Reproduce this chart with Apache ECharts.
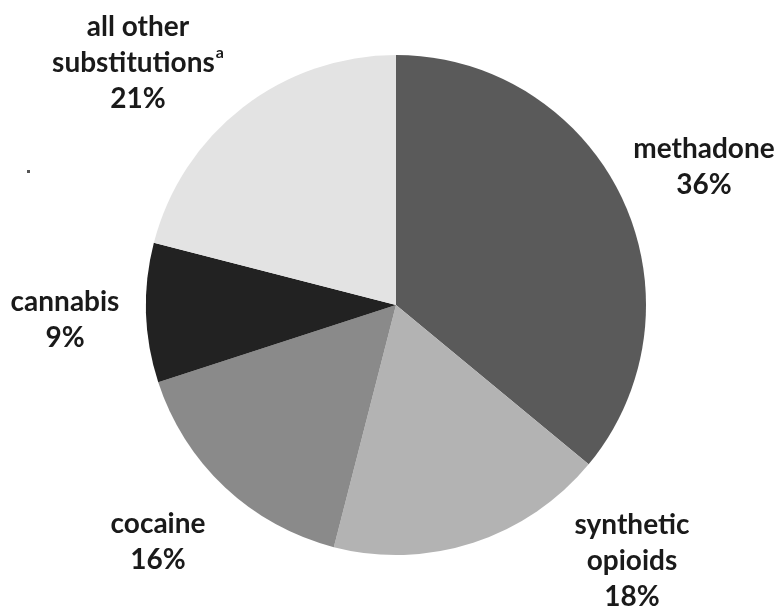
<!DOCTYPE html>
<html>
<head>
<meta charset="utf-8">
<script src="https://cdn.jsdelivr.net/npm/echarts@6/dist/echarts.min.js"></script>
<style>
  html, body { margin: 0; padding: 0; background: #ffffff; }
  #chart { width: 778px; height: 609px; }
</style>
</head>
<body>
<div id="chart"></div>
<script>
// Share of substitutions by substance (percent), clockwise from 12 o'clock
const categories = ['methadone', 'synthetic opioids', 'cocaine', 'cannabis', 'all other substitutions'];
const shares = [36, 18, 16, 9, 21];
const sliceColors = ['#5a5a5a', '#b3b3b3', '#8a8a8a', '#222222', '#e3e3e3'];

// Label text per slice (line breaks as printed); {sup|a} marks the footnote
const labelLines = [
  ['methadone'],
  ['synthetic', 'opioids'],
  ['cocaine'],
  ['cannabis'],
  ['all other', 'substitutions{sup|a}']
];

// Where each label block is centred
const labelAnchors = [
  { x: 704, y: 167 },
  { x: 632, y: 561 },
  { x: 158, y: 542 },
  { x: 65,  y: 320 },
  { x: 138, y: 63 }
];

const FONT = 'Lato, "Open Sans", sans-serif';

const chart = echarts.init(document.getElementById('chart'), null, { renderer: 'canvas' });

chart.setOption({
  animation: false,
  backgroundColor: '#ffffff',
  series: [{
    type: 'pie',
    center: [396, 305],
    radius: 250,
    startAngle: 90,
    clockwise: true,
    avoidLabelOverlap: false,
    data: categories.map((name, i) => ({
      name: name,
      value: shares[i],
      itemStyle: { color: sliceColors[i] }
    })),
    itemStyle: { borderWidth: 0 },
    label: {
      show: true,
      position: 'outside',
      formatter: (p) => labelLines[p.dataIndex].concat([p.value + '%']).join('\n'),
      color: '#1a1a1a',
      fontFamily: FONT,
      fontWeight: 'bold',
      fontSize: 28,
      lineHeight: 36,
      align: 'center',
      rich: {
        sup: {
          fontFamily: FONT,
          fontWeight: 'bold',
          fontSize: 16,
          color: '#1a1a1a',
          verticalAlign: 'top',
          lineHeight: 36,
          padding: [0, 0, 12, 1]
        }
      }
    },
    labelLine: { show: false },
    labelLayout: (params) => {
      const a = labelAnchors[params.dataIndex];
      return { x: a.x, y: a.y, align: 'center', verticalAlign: 'middle', hideOverlap: false };
    },
    emphasis: { disabled: true }
  }],
  graphic: [{
    // stray mark printed left of the chart
    type: 'rect',
    shape: { x: 27, y: 170, width: 3, height: 3 },
    style: { fill: '#555555' }
  }]
});
</script>
</body>
</html>
